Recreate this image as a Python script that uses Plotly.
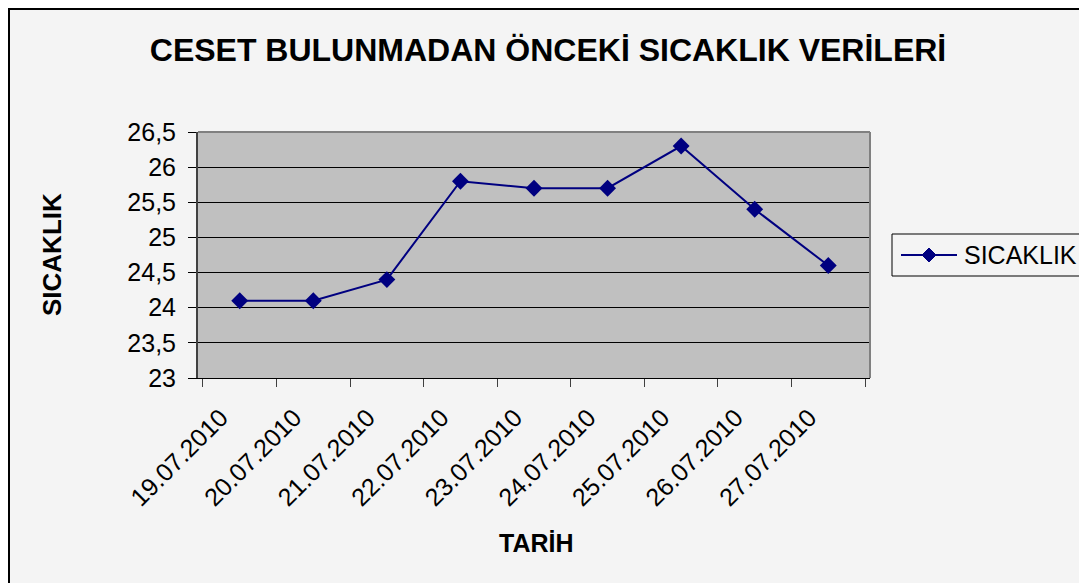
import plotly.graph_objects as go

dates = ["19.07.2010", "20.07.2010", "21.07.2010", "22.07.2010", "23.07.2010",
         "24.07.2010", "25.07.2010", "26.07.2010", "27.07.2010"]
temps = [24.1, 24.1, 24.4, 25.8, 25.7, 25.7, 26.3, 25.4, 24.6]
y_ticks = [23, 23.5, 24, 24.5, 25, 25.5, 26, 26.5]
y_labels = ["23", "23,5", "24", "24,5", "25", "25,5", "26", "26,5"]
series_name = "SICAKLIK"

W, H = 1087, 583
OFF = 8  # page body margin
L, R, T, B = 198 - OFF, 870 - OFF, 132 - OFF, 378 - OFF
pw, ph = R - L, B - T

def px(x):
    return (x - OFF - L) / pw

def py(y):
    return (B - (y - OFF)) / ph

font = "Liberation Sans, Arial, sans-serif"
navy = "#000080"

fig = go.Figure()
fig.add_trace(go.Scatter(
    x=dates, y=temps, mode="lines+markers", name=series_name,
    line=dict(color=navy, width=2),
    marker=dict(symbol="diamond", size=13, color=navy),
    showlegend=False,
))

# custom legend geometry (screen px)
lg_x0, lg_x1, lg_y0, lg_y1 = 892, 1084, 234, 276
lg_mid = (lg_y0 + lg_y1) / 2
dm_cx, dm_r = 929, 7
diamond = "M {x0},{ym} L {xm},{y0} L {x1},{ym} L {xm},{y1} Z".format(
    x0=px(dm_cx - dm_r), x1=px(dm_cx + dm_r), xm=px(dm_cx),
    ym=py(lg_mid), y0=py(lg_mid - dm_r), y1=py(lg_mid + dm_r))

fig.update_layout(
    width=W, height=H,
    margin=dict(l=L, r=W - R, t=T, b=H - B),
    paper_bgcolor="#F4F4F4",
    plot_bgcolor="#C0C0C0",
    font=dict(family=font, color="black", size=25),
    title=dict(text="<b>CESET BULUNMADAN ÖNCEKİ SICAKLIK VERİLERİ</b>",
               x=px(548), xref="paper", xanchor="center",
               y=1 - (50 - OFF) / H, yref="container", yanchor="middle",
               font=dict(size=32, family=font, color="black")),
    showlegend=False,
    xaxis=dict(type="category", tickson="boundaries", ticks="outside",
               ticklen=8, tickcolor="#404040", tickwidth=1,
               tickangle=-45, showline=True, linecolor="black", linewidth=1,
               showgrid=False, zeroline=False, tickfont=dict(size=25),
               ticklabelshift=-19, ticklabelstandoff=14),
    yaxis=dict(range=[23, 26.5], tickvals=y_ticks, ticktext=y_labels,
               ticks="outside", ticklen=8, tickcolor="black",
               showline=True, linecolor="#404040", linewidth=2,
               showgrid=True, gridcolor="black", gridwidth=1, zeroline=False,
               tickfont=dict(size=25), ticklabelstandoff=7),
    shapes=[
        dict(type="rect", xref="paper", yref="paper",
             x0=px(OFF + 1), x1=px(1200), y0=py(700), y1=py(OFF + 1),
             fillcolor="rgba(0,0,0,0)", line=dict(color="black", width=2), layer="below"),
        dict(type="line", xref="paper", yref="paper", x0=0, x1=1, y0=1, y1=1,
             line=dict(color="#808080", width=2), layer="above"),
        dict(type="line", xref="paper", yref="paper", x0=1, x1=1, y0=0, y1=1,
             line=dict(color="#808080", width=2), layer="above"),
        # legend box
        dict(type="rect", xref="paper", yref="paper",
             x0=px(lg_x0), x1=px(lg_x1), y0=py(lg_y1), y1=py(lg_y0),
             fillcolor="#F4F4F4", line=dict(color="black", width=1), layer="above"),
        dict(type="line", xref="paper", yref="paper",
             x0=px(901), x1=px(957), y0=py(lg_mid), y1=py(lg_mid),
             line=dict(color=navy, width=2), layer="above"),
        dict(type="path", xref="paper", yref="paper", path=diamond,
             fillcolor=navy, line=dict(color=navy, width=1), layer="above"),
    ],
    annotations=[
        dict(text="<b>SICAKLIK</b>", xref="paper", yref="paper",
             x=px(52), y=py(255), textangle=-90, showarrow=False,
             font=dict(size=26, family=font), xanchor="center", yanchor="middle"),
        dict(text="<b>TARİH</b>", xref="paper", yref="paper",
             x=px(536), y=py(543), showarrow=False,
             font=dict(size=25, family=font), xanchor="center", yanchor="middle"),
        dict(text=series_name, xref="paper", yref="paper",
             x=px(962), y=py(lg_mid), showarrow=False,
             font=dict(size=25, family=font), xanchor="left", yanchor="middle"),
    ],
)

fig.write_html("out.html")
